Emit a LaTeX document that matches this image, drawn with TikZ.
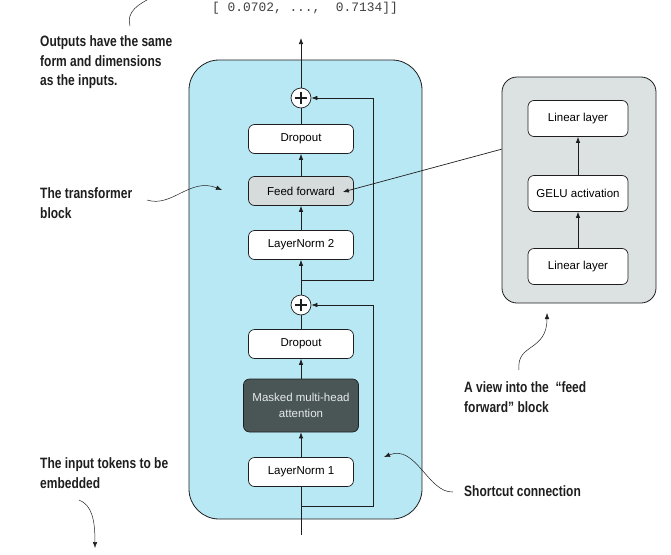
\documentclass[tikz,border=0pt]{standalone}
\usepackage{fontspec}
\setmainfont{Liberation Sans}
\setmonofont{Liberation Mono}
\newfontfamily\notefont[FakeStretch=0.8]{Liberation Sans}
\usetikzlibrary{arrows.meta, positioning, calc}
\definecolor{blockblue}{HTML}{B9E8F5}
\definecolor{viewgray}{HTML}{DCE1E1}
\definecolor{ffgray}{HTML}{D6DBDB}
\definecolor{attndark}{HTML}{4A5656}
\definecolor{attntext}{HTML}{E6EAEA}
\definecolor{inkdark}{HTML}{1E1E1E}

\begin{document}
\begin{tikzpicture}[x=1pt, y=-1pt,
  layerbox/.style={draw=inkdark, fill=white, rounded corners=6pt, line width=0.7pt,
    minimum width=105pt, minimum height=29pt, inner sep=0pt,
    font=\fontsize{11.5}{16.5}\selectfont},
  viewbox/.style={layerbox, minimum width=100pt, minimum height=36pt},
  addnode/.style={draw=inkdark, fill=white, circle, minimum size=20pt, inner sep=0pt, line width=0.7pt,
    path picture={\draw[line width=1.3pt]
      ([xshift=-6pt]path picture bounding box.center) -- ([xshift=6pt]path picture bounding box.center)
      ([yshift=-6pt]path picture bounding box.center) -- ([yshift=6pt]path picture bounding box.center);}},
  flow/.style={draw=inkdark, line width=0.7pt, -{Latex[length=6pt,width=4.5pt]}},
  callout/.style={draw=inkdark, line width=0.5pt, -{Latex[length=6pt,width=4.5pt]}},
  note/.style={font=\notefont\bfseries\fontsize{15}{19.5}\selectfont, text=inkdark,
    align=left, anchor=west, inner sep=0pt}]
  \useasboundingbox (0,0) rectangle (671,554);

  % Transformer block
  \node[draw=inkdark, fill=blockblue, rounded corners=30pt, line width=0.8pt,
    minimum width=233pt, minimum height=459pt] (block) at (305.5,289.5) {};

  % Layers, bottom to top
  \node[layerbox] (ln1) at (301,472) {LayerNorm 1};
  \node[layerbox, fill=attndark, text=attntext, minimum width=115pt, minimum height=53pt,
    align=center] (mha) at (301,405.5) {Masked multi-head\\attention};
  \node[layerbox] (drop1) at (301,344) {Dropout};
  \node[addnode] (addmid) at (301,305) {};
  \node[layerbox] (ln2) at (301,245) {LayerNorm 2};
  \node[layerbox, fill=ffgray] (ff) at (301,191) {Feed forward};
  \node[layerbox] (drop2) at (301,139) {Dropout};
  \node[addnode] (addtop) at (301,98) {};

  \coordinate (tokin) at (301,535);
  \coordinate (tokout) at (301,38);
  \coordinate (skip1) at (301,506);
  \coordinate (skip2) at (301,280);

  % Main path
  \draw[draw=inkdark, line width=0.7pt] (tokin) -- (ln1);
  \draw[flow] (ln1) -- (mha);
  \draw[flow] (mha) -- (drop1);
  \draw[draw=inkdark, line width=0.7pt] (drop1) -- (addmid);
  \draw[flow] (addmid) -- (ln2);
  \draw[flow] (ln2) -- (ff);
  \draw[flow] (ff) -- (drop2);
  \draw[draw=inkdark, line width=0.7pt] (drop2) -- (addtop);
  \draw[flow] (addtop) -- (tokout);

  % Shortcut connections
  \draw[flow] (skip1) -- ++(72,0) |- (addmid);
  \draw[flow] (skip2) -- ++(72,0) |- (addtop);

  % Feed forward view
  \node[draw=inkdark, fill=viewgray, rounded corners=15pt, line width=0.8pt,
    minimum width=154pt, minimum height=226pt] (view) at (579,190) {};
  \node[viewbox] (lin1) at (578,266.5) {Linear layer};
  \node[viewbox] (gelu) at (578,193.5) {GELU activation};
  \node[viewbox] (lin2) at (578,118.5) {Linear layer};
  \draw[flow] (lin1) -- (gelu);
  \draw[flow] (gelu) -- (lin2);

  \coordinate (viewport) at ($(view.north west)!0.32!(view.south west)$);
  \coordinate (ffin) at ($(ff.east)+(-11,1)$);
  \draw[flow] (viewport) -- (ffin);

  % Output values
  \node[font=\ttfamily\fontsize{12.9}{14}\selectfont, text=inkdark!85] (outvec) at (305,8)
    {[ 0.0702, ...,~~0.7134]]};
  \draw[draw=inkdark, line width=0.5pt] (130,26) .. controls (126,12) and (138,4) .. (153,-3);

  % Notes
  \node[note] (outnote) at (40,62.5) {Outputs have the same\\form and dimensions\\as the inputs.};
  \node[note] (tfnote) at (40,203) {The transformer\\block};
  \node[note] (innote) at (40,473) {The input tokens to be\\embedded};
  \node[note] (scnote) at (464,491) {Shortcut connection};
  \node[note] (viewnote) at (464,397) {A view into the\ \ “feed\\forward” block};

  \coordinate (tfpt) at (222,190);
  \coordinate (inpt) at (95,548);
  \coordinate (scpt) at (384,457);
  \coordinate (viewpt) at (547,313);
  \draw[callout] (147,200) .. controls (172,208) and (190,177) .. (tfpt);
  \draw[callout] (79,500) .. controls (92,505) and (95,520) .. (inpt);
  \draw[callout] (453,492) .. controls (428,493) and (416,444) .. (scpt);
  \draw[callout] (519,370) .. controls (516,343) and (547,352) .. (viewpt);
\end{tikzpicture}
\end{document}
